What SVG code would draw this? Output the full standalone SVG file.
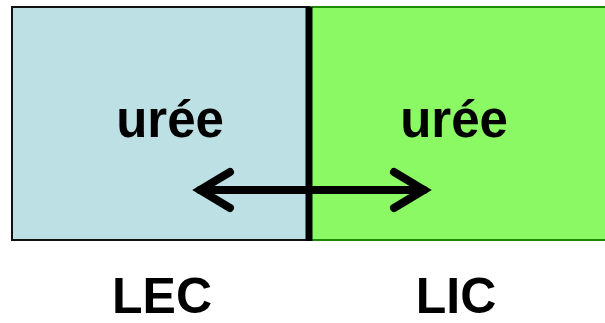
<svg xmlns="http://www.w3.org/2000/svg" width="605" height="323" viewBox="0 0 605 323">
<style>
text{font-family:"Liberation Sans",Arial,sans-serif;font-weight:bold;fill:#000;text-anchor:middle}
.big{font-size:51px}
.lbl{font-size:50px}
.arr{stroke:#000;stroke-width:8;fill:none;stroke-linecap:round;stroke-linejoin:miter}
</style>
<rect width="605" height="323" fill="#fff"/>
<g id="lic">
<rect x="309" y="7" width="300" height="233" fill="#8AF964" stroke="#1F8A00" stroke-width="2"/>
<text class="big" x="454" y="137">urée</text>
</g>
<g id="lec">
<rect x="12" y="7" width="297" height="233" fill="#BCE0E3" stroke="#111" stroke-width="2"/>
<text class="big" x="170" y="137">urée</text>
</g>
<rect id="membrane" x="305.5" y="7" width="7" height="234" fill="#000"/>
<g id="connectors">
<path class="arr" d="M200 190H424"/>
<path class="arr" d="M230 172L200 190L230 208"/>
<path class="arr" d="M394 172L424 190L394 208"/>
</g>
<text class="lbl" x="162" y="313">LEC</text>
<text class="lbl" x="456" y="313">LIC</text>
</svg>
